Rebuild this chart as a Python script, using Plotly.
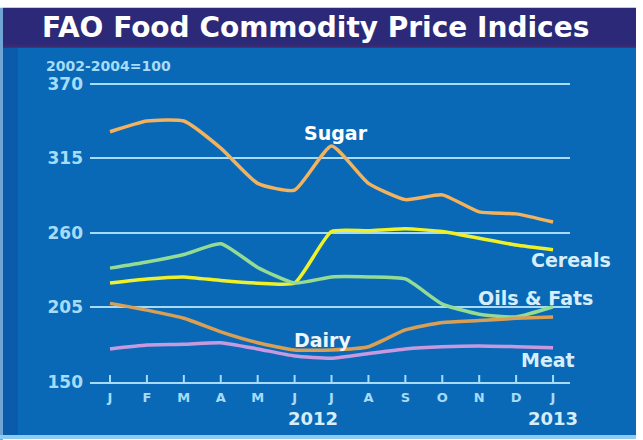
import plotly.graph_objects as go

months = ["J", "F", "M", "A", "M", "J", "J", "A", "S", "O", "N", "D", "J"]
sugar = [334.6, 342.5, 342.5, 322.5, 296.5, 291.5, 324.0, 296.5, 284.5, 288.0, 275.5, 274.0, 268.0]
cereals = [223.0, 226.0, 227.5, 224.8, 222.9, 223.0, 261.0, 261.5, 263.0, 261.0, 256.0, 251.0, 247.5]
oils = [234.0, 238.5, 244.0, 252.0, 234.5, 223.0, 227.5, 227.5, 226.0, 207.5, 200.0, 198.0, 205.5]
dairy = [208.0, 203.0, 197.0, 187.0, 179.0, 173.6, 173.6, 176.0, 188.4, 193.8, 195.3, 197.0, 198.0]
meat = [174.4, 177.3, 177.8, 179.0, 174.4, 169.2, 167.5, 171.0, 174.4, 176.0, 176.6, 176.0, 175.3]
y_ticks = [150, 205, 260, 315, 370]
title = "FAO Food Commodity Price Indices"
unit_note = "2002-2004=100"
years = [("2012", 5.5), ("2013", 12)]

W, H = 643, 440
L, R = 90, 570
T, B = 81.3, 382.0

def px(xp):
    return (xp - L) / (R - L)

def py(yp):
    return (B - yp) / (B - T)

x = list(range(len(months)))
series = [
    ("Sugar", sugar, "#f2b25e"),
    ("Cereals", cereals, "#eef02a"),
    ("Oils & Fats", oils, "#94dc94"),
    ("Dairy", dairy, "#d9a055"),
    ("Meat", meat, "#c79ae0"),
]

tick_col = "#a6dcf8"
font_fam = "DejaVu Sans"
ymin, ymax = 150, 372
tick_len_units = 7 * (ymax - ymin) / (B - T)

fig = go.Figure()
# month tick marks pointing up from the baseline
fig.add_trace(go.Scatter(
    x=x, y=[ymin] * len(x), mode="markers", marker=dict(size=1, color="rgba(0,0,0,0)"),
    error_y=dict(type="data", symmetric=False, array=[tick_len_units] * len(x),
                 arrayminus=[0] * len(x), width=0, thickness=2, color=tick_col),
    showlegend=False, hoverinfo="skip", cliponaxis=False))

for name, vals, col in series:
    fig.add_trace(go.Scatter(
        x=x, y=vals, mode="lines", name=name,
        line=dict(color=col, width=3.5, shape="spline", smoothing=0.5),
        showlegend=False, hoverinfo="skip", cliponaxis=False))

shapes = [
    dict(type="rect", xref="paper", yref="paper", x0=px(3), x1=px(636), y0=py(435), y1=py(48),
         fillcolor="#0a69b6", line=dict(width=0), layer="below"),
    dict(type="rect", xref="paper", yref="paper", x0=px(3), x1=px(18), y0=py(435), y1=py(48),
         fillcolor="#0a5ba9", line=dict(width=0), layer="below"),
    dict(type="rect", xref="paper", yref="paper", x0=px(0), x1=px(3), y0=py(440), y1=py(8),
         fillcolor="#6fa6d6", line=dict(width=0), layer="below"),
    dict(type="rect", xref="paper", yref="paper", x0=px(0), x1=px(636), y0=py(439), y1=py(435),
         fillcolor="#8ecbf0", line=dict(width=0), layer="below"),
    dict(type="rect", xref="paper", yref="paper", x0=px(3), x1=px(636), y0=py(48), y1=py(8),
         fillcolor="#2c2a78", line=dict(width=0), layer="below"),
    dict(type="rect", xref="paper", yref="paper", x0=px(3), x1=px(636), y0=py(48), y1=py(45),
         fillcolor="#3b2a72", line=dict(width=0), layer="below"),
]

annotations = [
    dict(text=title, xref="paper", yref="paper", x=px(315), y=py(28), xanchor="center", yanchor="middle",
         showarrow=False, font=dict(family=font_fam, size=28, color="#ffffff", weight="bold")),
    dict(text=unit_note, xref="paper", yref="paper", x=px(44), y=py(66), xanchor="left", yanchor="middle",
         showarrow=False, font=dict(family=font_fam, size=14, color=tick_col, weight="bold")),
]
for label, xpos in years:
    annotations.append(dict(text=label, xref="x", yref="paper", x=xpos, y=py(418), xanchor="center",
                            yanchor="middle", showarrow=False,
                            font=dict(family=font_fam, size=18, color="#d6eefc", weight="bold")))

label_pos = {
    "Sugar": (336, 133, "#ffffff"),
    "Cereals": (571, 260, "#d6eefc"),
    "Oils & Fats": (535, 298, "#d6eefc"),
    "Dairy": (322, 340, "#eef6fc"),
    "Meat": (548, 360, "#d6eefc"),
}
for name, vals, col in series:
    lx, ly, lc = label_pos[name]
    annotations.append(dict(text=name, x=px(lx), y=py(ly), xref="paper", yref="paper",
                            xanchor="center", yanchor="middle",
                            showarrow=False, font=dict(family=font_fam, size=19, color=lc, weight="bold")))

fig.update_layout(
    width=W, height=H,
    margin=dict(l=L, r=W - R, t=T, b=H - B, pad=0),
    paper_bgcolor="#ffffff",
    plot_bgcolor="rgba(0,0,0,0)",
    shapes=shapes,
    annotations=annotations,
    xaxis=dict(
        range=[(L - 110) / 36.92, (R - 110) / 36.92],
        tickmode="array", tickvals=x, ticktext=months,
        ticks="", showgrid=False, zeroline=False,
        showline=True, linecolor=tick_col, linewidth=2,
        ticklabelstandoff=2,
        tickfont=dict(family=font_fam, size=13, color=tick_col, weight="bold"),
    ),
    yaxis=dict(
        range=[ymin, ymax],
        tickmode="array", tickvals=y_ticks,
        showgrid=True, gridcolor=tick_col, gridwidth=2,
        zeroline=False, showline=False, ticks="",
        ticklabelstandoff=6,
        tickfont=dict(family=font_fam, size=17, color=tick_col, weight="bold"),
    ),
)

fig.write_html("out.html")
